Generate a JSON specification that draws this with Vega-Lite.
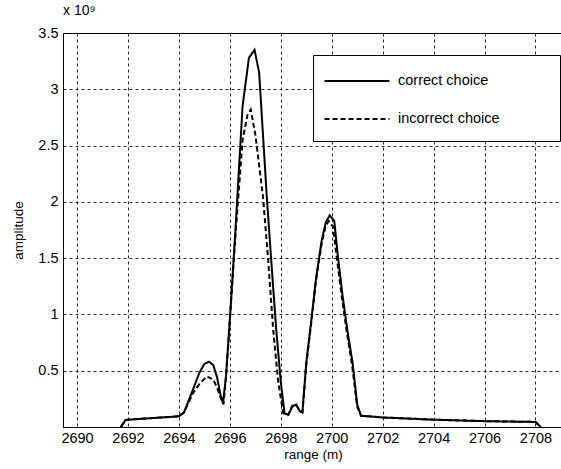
{
  "$schema": "https://vega.github.io/schema/vega-lite/v6.json",
  "width": 500,
  "height": 394,
  "autosize": {"type": "none"},
  "padding": {"left": 63, "top": 33, "right": 0, "bottom": 42},
  "background": "white",
  "title": {"text": "x 10⁹", "anchor": "start", "frame": "group", "font": "Liberation Sans", "fontSize": 14, "fontWeight": "normal", "color": "black", "offset": 7},
  "config": {
    "view": {"stroke": "black", "strokeWidth": 1},
    "axis": {"labelFont": "Liberation Sans", "titleFont": "Liberation Sans", "labelFontSize": 14.5, "titleFontSize": 13.5, "titleFontWeight": "normal", "labelColor": "black", "titleColor": "black", "domainColor": "black", "grid": true, "gridColor": "black", "gridDash": [3, 3], "gridOpacity": 0.85, "gridWidth": 1, "ticks": false}
  },
  "data": {"values": [
    {"series": "correct choice", "range": 2691.72, "amplitude": 0},
    {"series": "correct choice", "range": 2691.9, "amplitude": 60000000},
    {"series": "correct choice", "range": 2692.0, "amplitude": 65000000},
    {"series": "correct choice", "range": 2693.0, "amplitude": 80000000},
    {"series": "correct choice", "range": 2694.0, "amplitude": 95000000},
    {"series": "correct choice", "range": 2694.2, "amplitude": 130000000},
    {"series": "correct choice", "range": 2694.55, "amplitude": 330000000},
    {"series": "correct choice", "range": 2694.8, "amplitude": 480000000},
    {"series": "correct choice", "range": 2695.0, "amplitude": 560000000},
    {"series": "correct choice", "range": 2695.18, "amplitude": 580000000},
    {"series": "correct choice", "range": 2695.35, "amplitude": 550000000},
    {"series": "correct choice", "range": 2695.5, "amplitude": 440000000},
    {"series": "correct choice", "range": 2695.62, "amplitude": 300000000},
    {"series": "correct choice", "range": 2695.73, "amplitude": 210000000},
    {"series": "correct choice", "range": 2695.85, "amplitude": 450000000},
    {"series": "correct choice", "range": 2696.0, "amplitude": 950000000},
    {"series": "correct choice", "range": 2696.22, "amplitude": 1750000000},
    {"series": "correct choice", "range": 2696.5, "amplitude": 2850000000},
    {"series": "correct choice", "range": 2696.75, "amplitude": 3280000000},
    {"series": "correct choice", "range": 2696.97, "amplitude": 3350000000},
    {"series": "correct choice", "range": 2697.15, "amplitude": 3150000000},
    {"series": "correct choice", "range": 2697.3, "amplitude": 2600000000},
    {"series": "correct choice", "range": 2697.45, "amplitude": 2050000000},
    {"series": "correct choice", "range": 2697.65, "amplitude": 1400000000},
    {"series": "correct choice", "range": 2697.82, "amplitude": 870000000},
    {"series": "correct choice", "range": 2698.0, "amplitude": 400000000},
    {"series": "correct choice", "range": 2698.15, "amplitude": 120000000},
    {"series": "correct choice", "range": 2698.3, "amplitude": 110000000},
    {"series": "correct choice", "range": 2698.45, "amplitude": 180000000},
    {"series": "correct choice", "range": 2698.6, "amplitude": 200000000},
    {"series": "correct choice", "range": 2698.75, "amplitude": 140000000},
    {"series": "correct choice", "range": 2698.85, "amplitude": 130000000},
    {"series": "correct choice", "range": 2699.0, "amplitude": 570000000},
    {"series": "correct choice", "range": 2699.2, "amplitude": 950000000},
    {"series": "correct choice", "range": 2699.38, "amplitude": 1310000000},
    {"series": "correct choice", "range": 2699.6, "amplitude": 1650000000},
    {"series": "correct choice", "range": 2699.77, "amplitude": 1820000000},
    {"series": "correct choice", "range": 2699.92, "amplitude": 1880000000},
    {"series": "correct choice", "range": 2700.1, "amplitude": 1830000000},
    {"series": "correct choice", "range": 2700.25, "amplitude": 1500000000},
    {"series": "correct choice", "range": 2700.43, "amplitude": 1160000000},
    {"series": "correct choice", "range": 2700.62, "amplitude": 850000000},
    {"series": "correct choice", "range": 2700.82, "amplitude": 570000000},
    {"series": "correct choice", "range": 2701.0, "amplitude": 200000000},
    {"series": "correct choice", "range": 2701.15, "amplitude": 100000000},
    {"series": "correct choice", "range": 2702.0, "amplitude": 85000000},
    {"series": "correct choice", "range": 2704.0, "amplitude": 65000000},
    {"series": "correct choice", "range": 2706.0, "amplitude": 52000000},
    {"series": "correct choice", "range": 2708.0, "amplitude": 45000000},
    {"series": "correct choice", "range": 2708.21, "amplitude": 0},
    {"series": "incorrect choice", "range": 2691.72, "amplitude": 0},
    {"series": "incorrect choice", "range": 2691.9, "amplitude": 60000000},
    {"series": "incorrect choice", "range": 2692.0, "amplitude": 65000000},
    {"series": "incorrect choice", "range": 2693.0, "amplitude": 80000000},
    {"series": "incorrect choice", "range": 2694.0, "amplitude": 95000000},
    {"series": "incorrect choice", "range": 2694.2, "amplitude": 130000000},
    {"series": "incorrect choice", "range": 2694.55, "amplitude": 300000000},
    {"series": "incorrect choice", "range": 2694.8, "amplitude": 380000000},
    {"series": "incorrect choice", "range": 2695.1, "amplitude": 450000000},
    {"series": "incorrect choice", "range": 2695.35, "amplitude": 420000000},
    {"series": "incorrect choice", "range": 2695.5, "amplitude": 350000000},
    {"series": "incorrect choice", "range": 2695.62, "amplitude": 270000000},
    {"series": "incorrect choice", "range": 2695.75, "amplitude": 200000000},
    {"series": "incorrect choice", "range": 2695.85, "amplitude": 450000000},
    {"series": "incorrect choice", "range": 2696.0, "amplitude": 950000000},
    {"series": "incorrect choice", "range": 2696.22, "amplitude": 1700000000},
    {"series": "incorrect choice", "range": 2696.5, "amplitude": 2550000000},
    {"series": "incorrect choice", "range": 2696.7, "amplitude": 2780000000},
    {"series": "incorrect choice", "range": 2696.82, "amplitude": 2820000000},
    {"series": "incorrect choice", "range": 2697.0, "amplitude": 2600000000},
    {"series": "incorrect choice", "range": 2697.3, "amplitude": 2050000000},
    {"series": "incorrect choice", "range": 2697.5, "amplitude": 1500000000},
    {"series": "incorrect choice", "range": 2697.7, "amplitude": 870000000},
    {"series": "incorrect choice", "range": 2697.9, "amplitude": 400000000},
    {"series": "incorrect choice", "range": 2698.1, "amplitude": 120000000},
    {"series": "incorrect choice", "range": 2698.3, "amplitude": 110000000},
    {"series": "incorrect choice", "range": 2698.45, "amplitude": 190000000},
    {"series": "incorrect choice", "range": 2698.6, "amplitude": 200000000},
    {"series": "incorrect choice", "range": 2698.75, "amplitude": 140000000},
    {"series": "incorrect choice", "range": 2698.85, "amplitude": 130000000},
    {"series": "incorrect choice", "range": 2699.0, "amplitude": 550000000},
    {"series": "incorrect choice", "range": 2699.2, "amplitude": 930000000},
    {"series": "incorrect choice", "range": 2699.38, "amplitude": 1300000000},
    {"series": "incorrect choice", "range": 2699.6, "amplitude": 1620000000},
    {"series": "incorrect choice", "range": 2699.75, "amplitude": 1780000000},
    {"series": "incorrect choice", "range": 2699.88, "amplitude": 1830000000},
    {"series": "incorrect choice", "range": 2700.05, "amplitude": 1780000000},
    {"series": "incorrect choice", "range": 2700.2, "amplitude": 1500000000},
    {"series": "incorrect choice", "range": 2700.4, "amplitude": 1150000000},
    {"series": "incorrect choice", "range": 2700.6, "amplitude": 830000000},
    {"series": "incorrect choice", "range": 2700.8, "amplitude": 550000000},
    {"series": "incorrect choice", "range": 2701.0, "amplitude": 180000000},
    {"series": "incorrect choice", "range": 2701.15, "amplitude": 100000000},
    {"series": "incorrect choice", "range": 2702.0, "amplitude": 85000000},
    {"series": "incorrect choice", "range": 2704.0, "amplitude": 65000000},
    {"series": "incorrect choice", "range": 2706.0, "amplitude": 52000000},
    {"series": "incorrect choice", "range": 2708.0, "amplitude": 45000000},
    {"series": "incorrect choice", "range": 2708.21, "amplitude": 0}
  ]},
  "mark": {"type": "line", "color": "black", "strokeWidth": 2, "clip": true},
  "encoding": {
    "x": {"field": "range", "type": "quantitative", "scale": {"domain": [2689.45, 2709.08], "nice": false, "zero": false},
      "axis": {"title": "range (m)", "values": [2690, 2692, 2694, 2696, 2698, 2700, 2702, 2704, 2706, 2708], "format": "d", "labelPadding": 4, "titlePadding": 3}},
    "y": {"field": "amplitude", "type": "quantitative", "scale": {"domain": [0, 3500000000], "nice": false},
      "axis": {"title": "amplitude", "values": [500000000, 1000000000, 1500000000, 2000000000, 2500000000, 3000000000, 3500000000], "labelExpr": "format(datum.value / 1e9, '~g')", "labelPadding": 5, "titlePadding": 12}},
    "strokeDash": {"field": "series", "type": "nominal",
      "scale": {"domain": ["correct choice", "incorrect choice"], "range": [[1, 0], [5, 3]]},
      "legend": {"title": null, "orient": "none", "legendX": 250, "legendY": 22,
        "symbolType": "M-3.25,0H3.25M18.4,0L18.4,0", "symbolSize": 400, "symbolStrokeWidth": 2, "symbolStrokeColor": "black", "symbolOffset": 18,
        "labelFont": "Liberation Sans", "labelFontSize": 14.5, "labelColor": "black", "labelOffset": 30,
        "padding": 15, "rowPadding": 20, "strokeColor": "black", "fillColor": "white",
        "encode": {"entries": {"update": {"noBound": {"value": false}, "width": {"value": 214}}}}}}
  }
}
